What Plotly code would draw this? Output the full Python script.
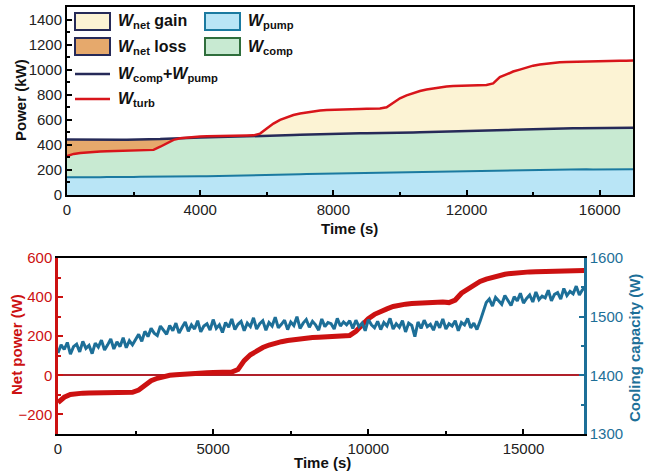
import plotly.graph_objects as go

# ---------------- data ----------------
time_s = list(range(0, 17001, 200))        # sample times (s) for power series
cool_time_s = list(range(0, 17001, 100))   # sample times (s) for cooling capacity

w_pump = [142,141,143,142,143,142,144,143,144,145,144,145,146,145,147,146,147,148,147,149,150,
          149,150,151,150,152,153,152,154,155,157,
          159,161,163,164,166,168,169,171,172,174,
          174,175,175,176,177,177,178,179,179,180,
          182,184,186,187,188,189,190,191,191,192,
          193,194,195,196,197,198,199,200,200,201,
          201,202,202,203,203,204,204,205,204,205,206,205,206,205,206]

w_comp_pump = [443,442,442,441,441,440,440,440,440,441,441,442,443,444,446,449,452,454,456,457,458,
               459,460,461,462,463,464,465,466,468,470,
               472,474,476,478,480,482,484,486,488,490,
               490,491,491,492,493,493,494,495,496,497,
               498,499,500,501,502,504,505,506,507,508,
               509,510,512,514,516,518,520,522,524,525,
               527,528,529,530,531,532,532,533,533,534,534,535,535,535,536]

w_turb = [310,328,336,341,344,347,349,350,352,353,354,355,356,360,385,415,440,452,458,462,466,
          468,470,471,472,473,474,475,476,490,530,
          570,600,622,638,650,660,668,674,678,681,
          684,685,686,687,688,689,690,700,735,772,
          795,815,830,842,852,860,866,870,872,874,
          875,876,877,890,940,962,985,1000,1018,1032,
          1042,1050,1056,1060,1062,1064,1066,1067,1068,1069,1070,1071,1072,1072,1073]

net_power = [-139,-112,-98,-93,-91,-90,-90,-89,-89,-88,-88,-88,-87,
             -75,-50,-28,-15,-6,0,3,6,
             8,10,11,13,14,15,16,17,30,75,
             105,125,142,155,165,172,178,183,187,190,
             193,195,197,199,200,202,204,225,258,290,
             312,328,340,352,360,364,367,369,371,372,
             374,375,372,385,420,442,465,480,492,502,
             510,517,521,525,527,529,530,531,532,533,534,534,535,535,536]

cooling = [1438,1452,1444,1456,1436,1449,1453,1440,1458,1446,
           1451,1437,1455,1448,1460,1443,1452,1462,1445,1457,
           1449,1464,1447,1459,1452,
           1461,1470,1458,1475,1466,1480,1472,1468,1484,1476,
           1470,1485,1476,1489,1472,1482,1491,1475,1486,1479,
           1493,1474,1484,1488,1477,1495,1480,1486,1473,1490,
           1482,1496,1478,1487,1492,1476,1489,1483,1498,1479,
           1488,1493,1477,1490,1484,1499,1481,1487,1494,1478,
           1491,1485,1500,1480,1489,1495,1482,1492,1486,1477,
           1496,1483,1490,1488,1479,1497,1484,1491,1486,1493,
           1480,1494,1483,1489,1476,1495,1486,1481,1492,1478,
           1490,1484,1497,1479,1488,1482,1493,1474,1489,1485,
           1466,1491,1480,1494,1483,1487,1477,1492,1481,1496,
           1479,1488,1484,1493,1476,1490,1486,1497,1481,1489,
           1478,1492,
           1510,1524,1530,1518,1533,1526,1521,1536,1528,1519,
           1534,1527,1540,1523,1531,1537,1525,1542,1529,1535,
           1532,1545,1527,1538,1541,1530,1548,1536,1543,1539,
           1552,1537,1546,1550]

upper = [max(a, b) for a, b in zip(w_turb, w_comp_pump)]
lower = [min(a, b) for a, b in zip(w_turb, w_comp_pump)]

# ---------------- style ----------------
W, H = 654, 473
FONT = "Liberation Sans, Arial, sans-serif"
RED = "#d8151b"
NAVY = "#262a58"
TEAL = "#1b7aa0"
GREEN_B = "#2f6e3c"
PUMP_FILL = "#b9e5f6"
COMP_FILL = "#c8ead2"
GAIN_FILL = "#fcf3d4"
LOSS_FILL = "#e6a96c"
BLUE2 = "#1d6f98"
RED2 = "#cc1111"

def px(x):
    return x / W

def py(y):
    return 1 - y / H

fig = go.Figure()

# top chart fills
fig.add_trace(go.Scatter(x=time_s, y=w_pump, mode="lines", fill="tozeroy", fillcolor=PUMP_FILL,
                         line=dict(width=0), showlegend=False, xaxis="x", yaxis="y"))
fig.add_trace(go.Scatter(x=time_s, y=w_comp_pump, mode="lines", fill="tonexty", fillcolor=COMP_FILL,
                         line=dict(width=0), showlegend=False, xaxis="x", yaxis="y"))
fig.add_trace(go.Scatter(x=time_s, y=upper, mode="lines", fill="tonexty", fillcolor=GAIN_FILL,
                         line=dict(width=0), showlegend=False, xaxis="x", yaxis="y"))
fig.add_trace(go.Scatter(x=time_s, y=lower, mode="lines",
                         line=dict(width=0), showlegend=False, xaxis="x", yaxis="y"))
fig.add_trace(go.Scatter(x=time_s, y=w_comp_pump, mode="lines", fill="tonexty", fillcolor=LOSS_FILL,
                         line=dict(width=0), showlegend=False, xaxis="x", yaxis="y"))
# top chart lines
fig.add_trace(go.Scatter(x=time_s, y=w_pump, mode="lines", line=dict(color=TEAL, width=2),
                         showlegend=False, xaxis="x", yaxis="y"))
fig.add_trace(go.Scatter(x=time_s, y=w_comp_pump, mode="lines", line=dict(color=NAVY, width=2.5),
                         showlegend=False, xaxis="x", yaxis="y"))
fig.add_trace(go.Scatter(x=time_s, y=w_turb, mode="lines", line=dict(color=RED, width=2.5),
                         showlegend=False, xaxis="x", yaxis="y"))

# bottom chart
fig.add_trace(go.Scatter(x=cool_time_s, y=cooling, mode="lines", line=dict(color=BLUE2, width=3),
                         showlegend=False, xaxis="x2", yaxis="y3"))
fig.add_trace(go.Scatter(x=time_s, y=net_power, mode="lines", line=dict(color=RED2, width=5),
                         showlegend=False, xaxis="x2", yaxis="y2"))

tickfont = dict(family=FONT, size=15, color="#222222")

fig.update_layout(
    width=W, height=H,
    margin=dict(l=0, r=0, t=0, b=0),
    paper_bgcolor="white", plot_bgcolor="white",
    font=dict(family=FONT),
    xaxis=dict(domain=[px(67), px(633)], range=[0, 17000], anchor="y", automargin=False,
               showline=True, linecolor="black", linewidth=2, mirror=True,
               ticks="inside", ticklen=5, tickwidth=2, tickcolor="black", dtick=4000, tick0=0,
               tickformat="d",
               minor=dict(ticks="inside", ticklen=3, tickwidth=2, dtick=2000, tickcolor="black"),
               showgrid=False, zeroline=False, tickfont=tickfont),
    yaxis=dict(domain=[py(195), py(7)], range=[0, 1500], anchor="x", automargin=False,
               showline=True, linecolor="black", linewidth=2, mirror=True,
               ticks="inside", ticklen=5, tickwidth=2, tickcolor="black", dtick=200, tick0=0,
               tickformat="d",
               minor=dict(ticks="inside", ticklen=3, tickwidth=1.5, dtick=100, tickcolor="black"),
               showgrid=False, zeroline=False, tickfont=tickfont),
    xaxis2=dict(domain=[px(58), px(584)], range=[0, 16950], anchor="y2", automargin=False,
                showline=True, linecolor="black", linewidth=2, mirror=True,
                ticks="inside", ticklen=5, tickwidth=2, tickcolor="black", dtick=5000, tick0=0,
                tickformat="d",
                minor=dict(ticks="inside", ticklen=3, tickwidth=2, dtick=2500, tickcolor="black"),
                showgrid=False, zeroline=False, tickfont=tickfont),
    yaxis2=dict(domain=[py(434), py(258)], range=[-300, 600], anchor="x2", automargin=False,
                showline=True, linecolor=RED2, linewidth=2.5,
                ticks="inside", ticklen=5, tickwidth=2, tickcolor=RED2, dtick=200, tick0=0,
                tickformat="d",
                minor=dict(ticks="inside", ticklen=3, tickwidth=1.5, dtick=100, tickcolor=RED2),
                showgrid=False, zeroline=True, zerolinecolor="#b0202a", zerolinewidth=1.5,
                tickfont=dict(family=FONT, size=15, color=RED2)),
    yaxis3=dict(domain=[py(434), py(258)], range=[1300, 1600], anchor="x2", overlaying="y2", side="right",
                automargin=False,
                showline=True, linecolor=BLUE2, linewidth=2.5,
                ticks="inside", ticklen=5, tickwidth=2, tickcolor=BLUE2, dtick=100, tick0=1300,
                tickformat="d",
                minor=dict(ticks="inside", ticklen=3, tickwidth=1.5, dtick=50, tickcolor=BLUE2),
                showgrid=False, zeroline=False,
                tickfont=dict(family=FONT, size=15, color=BLUE2)),
)

# ---------------- axis titles and manual legend ----------------
shapes = []
annotations = []
legend_font = dict(family=FONT, size=16, color="#111111")

def title_ann(x, y, text, color, angle=0):
    annotations.append(dict(xref="paper", yref="paper", x=px(x), y=py(y), text=text,
                            showarrow=False, xanchor="center", yanchor="middle", textangle=angle,
                            font=dict(family=FONT, size=15, color=color)))

title_ann(349, 228, "<b>Time (s)</b>", "#111111")
title_ann(21, 100, "<b>Power (kW)</b>", "#111111", -90)
title_ann(322, 462, "<b>Time (s)</b>", "#111111")
title_ann(16, 345, "<b>Net power (W)</b>", RED2, -90)
title_ann(634, 348, "<b>Cooling capacity (W)</b>", BLUE2, -90)

def rect_entry(x0, y0, fill, border, label):
    shapes.append(dict(type="rect", xref="paper", yref="paper",
                       x0=px(x0), x1=px(x0 + 35), y0=py(y0 + 17), y1=py(y0),
                       fillcolor=fill, line=dict(color=border, width=2)))
    annotations.append(dict(xref="paper", yref="paper", x=px(x0 + 41), y=py(y0 + 9),
                            xanchor="left", yanchor="middle", text=label, showarrow=False,
                            font=legend_font))

def line_entry(x0, y0, color, label):
    shapes.append(dict(type="line", xref="paper", yref="paper",
                       x0=px(x0), x1=px(x0 + 35), y0=py(y0), y1=py(y0),
                       line=dict(color=color, width=2.5)))
    annotations.append(dict(xref="paper", yref="paper", x=px(x0 + 41), y=py(y0),
                            xanchor="left", yanchor="middle", text=label, showarrow=False,
                            font=legend_font))

rect_entry(75, 13, GAIN_FILL, NAVY, "<b><i>W</i><sub>net</sub> gain</b>")
rect_entry(75, 38, LOSS_FILL, NAVY, "<b><i>W</i><sub>net</sub> loss</b>")
line_entry(75, 74, NAVY, "<b><i>W</i><sub>comp</sub>+<i>W</i><sub>pump</sub></b>")
line_entry(75, 99, RED, "<b><i>W</i><sub>turb</sub></b>")
rect_entry(205, 13, PUMP_FILL, TEAL, "<b><i>W</i><sub>pump</sub></b>")
rect_entry(205, 38, COMP_FILL, GREEN_B, "<b><i>W</i><sub>comp</sub></b>")

fig.update_layout(shapes=shapes, annotations=annotations)

fig.write_html("out.html", config={"displayModeBar": False},
               post_script="document.body.style.margin='0px';")
